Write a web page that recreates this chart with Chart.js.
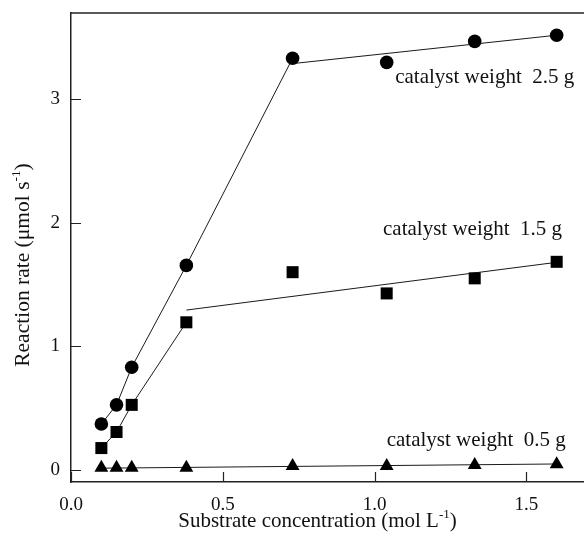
<!DOCTYPE html>
<html><head><meta charset="utf-8">
<script src="https://cdn.jsdelivr.net/npm/chart.js@4/dist/chart.umd.min.js"></script>
<style>html,body{margin:0;padding:0;background:#fff;}canvas{display:block;}</style>
</head><body>
<canvas id="c" width="584" height="540"></canvas>
<script>
// ---- data ----
const concentration = [0.1, 0.15, 0.2, 0.38, 0.73, 1.04, 1.33, 1.6];
const rate25 = [0.37, 0.525, 0.83, 1.655, 3.333, 3.30, 3.47, 3.52];
const rate15 = [0.175, 0.305, 0.525, 1.194, 1.60, 1.428, 1.55, 1.684];
const rate05 = [0.016, 0.016, 0.016, 0.016, 0.030, 0.030, 0.038, 0.043];
// connecting segments (first points) and fitted lines
const seg25Count = 5;
const seg15Count = 4;
const fit25X = [0.73, 1.6], fit25Y = [3.29, 3.52];
const fit15X = [0.38, 1.6], fit15Y = [1.293, 1.68];
const fit05X = [0.1, 1.6], fit05Y = [0.012, 0.046];
const xTickValues = [0, 0.5, 1.0, 1.5];
const xTickLabels = ['0.0', '0.5', '1.0', '1.5'];
const yTickValues = [0, 1, 2, 3];
const yTickLabels = ['0', '1', '2', '3'];
const seriesLabels = ['catalyst weight  2.5 g', 'catalyst weight  1.5 g', 'catalyst weight  0.5 g'];

const pts = (xs, ys) => xs.map((x, i) => ({x, y: ys[i]}));
const FONT = "'Liberation Serif', 'Times New Roman', serif";

const lineDs = (data) => ({type: 'scatter', data, showLine: true, pointRadius: 0,
  borderColor: '#1a1a1a', borderWidth: 1, fill: false, tension: 0});
const markDs = (data, style, r) => ({type: 'scatter', data, showLine: false, pointStyle: style,
  pointRadius: r, pointBackgroundColor: '#000', pointBorderWidth: 0, pointBorderColor: '#000'});

function drawRich(ctx, parts, x, y, size, align) {
  ctx.save();
  const w = parts.reduce((s, p) => {
    ctx.font = (p[1] ? size * 0.62 : size) + 'px ' + FONT;
    return s + ctx.measureText(p[0]).width;
  }, 0);
  let cx = align === 'center' ? x - w / 2 : x;
  ctx.textBaseline = 'alphabetic';
  ctx.textAlign = 'left';
  for (const p of parts) {
    ctx.font = (p[1] ? size * 0.62 : size) + 'px ' + FONT;
    ctx.fillText(p[0], cx, p[1] ? y - size * 0.42 : y);
    cx += ctx.measureText(p[0]).width;
  }
  ctx.restore();
}

const decor = {
  id: 'decor',
  afterDraw(chart) {
    const {ctx, chartArea: a, scales: {x, y}} = chart;
    ctx.save();
    ctx.strokeStyle = '#222';
    ctx.lineWidth = 1.5;
    ctx.beginPath();
    ctx.moveTo(a.left, a.top); ctx.lineTo(a.right, a.top);
    ctx.stroke();
    ctx.lineWidth = 1.2;
    ctx.beginPath();
    xTickValues.forEach(v => { const px = Math.round(x.getPixelForValue(v)) + 0.5; ctx.moveTo(px, a.bottom); ctx.lineTo(px, a.bottom - 10); });
    yTickValues.forEach(v => { const py = Math.round(y.getPixelForValue(v)) + 0.5; ctx.moveTo(a.left, py); ctx.lineTo(a.left + 10, py); });
    ctx.stroke();
    ctx.fillStyle = '#111';
    // annotations
    const ann = [[1.068, 3.129], [1.028, 1.90], [1.040, 0.188]];
    ctx.font = '21px ' + FONT;
    ctx.textAlign = 'left';
    ctx.textBaseline = 'alphabetic';
    seriesLabels.forEach((t, i) => ctx.fillText(t, x.getPixelForValue(ann[i][0]), y.getPixelForValue(ann[i][1])));
    // x title
    drawRich(ctx, [['Substrate concentration (mol L', false], ['-1', true], [')', false]],
      (a.left + a.right) / 2 - 10, 527, 21, 'center');
    // y title
    ctx.save();
    ctx.translate(29, 265);
    ctx.rotate(-Math.PI / 2);
    drawRich(ctx, [['Reaction rate (\u03bcmol s', false], ['-1', true], [')', false]], 0, 0, 21.5, 'center');
    ctx.restore();
    ctx.restore();
  }
};

new Chart(document.getElementById('c'), {
  type: 'scatter',
  data: {
    datasets: [
      markDs(pts(concentration, rate25), 'circle', 6.8),
      markDs(pts(concentration, rate15), 'rect', 8.5),
      markDs(pts(concentration, rate05), 'triangle', 8),
      lineDs(pts(concentration.slice(0, seg25Count), rate25.slice(0, seg25Count))),
      lineDs(pts(concentration.slice(0, seg15Count), rate15.slice(0, seg15Count))),
      lineDs(pts(fit25X, fit25Y)),
      lineDs(pts(fit15X, fit15Y)),
      lineDs(pts(fit05X, fit05Y))
    ]
  },
  options: {
    responsive: false,
    animation: false,
    devicePixelRatio: 1,
    layout: {autoPadding: false, padding: {top: 13, right: 0, left: 0, bottom: 0}},
    plugins: {legend: {display: false}, tooltip: {enabled: false}},
    scales: {
      x: {
        type: 'linear', min: 0, max: 1.69,
        grid: {display: false, drawTicks: false},
        border: {display: true, color: '#222', width: 1.5},
        afterBuildTicks: s => { s.ticks = xTickValues.map(v => ({value: v})); },
        afterFit: s => { s.height = 58; s.paddingLeft = 0; s.paddingRight = 0; },
        ticks: {callback: (v, i) => xTickLabels[i], color: '#111', padding: 12,
          font: {family: FONT, size: 19}, maxRotation: 0, autoSkip: false}
      },
      y: {
        type: 'linear', min: -0.1, max: 3.7,
        grid: {display: false, drawTicks: false},
        border: {display: true, color: '#222', width: 1.5},
        afterBuildTicks: s => { s.ticks = yTickValues.map(v => ({value: v})); },
        afterFit: s => { s.width = 71; s.paddingTop = 0; s.paddingBottom = 0; },
        ticks: {callback: (v, i) => yTickLabels[i], color: '#111', padding: 11,
          font: {family: FONT, size: 19}, autoSkip: false}
      }
    }
  },
  plugins: [decor]
});
</script>
</body></html>
